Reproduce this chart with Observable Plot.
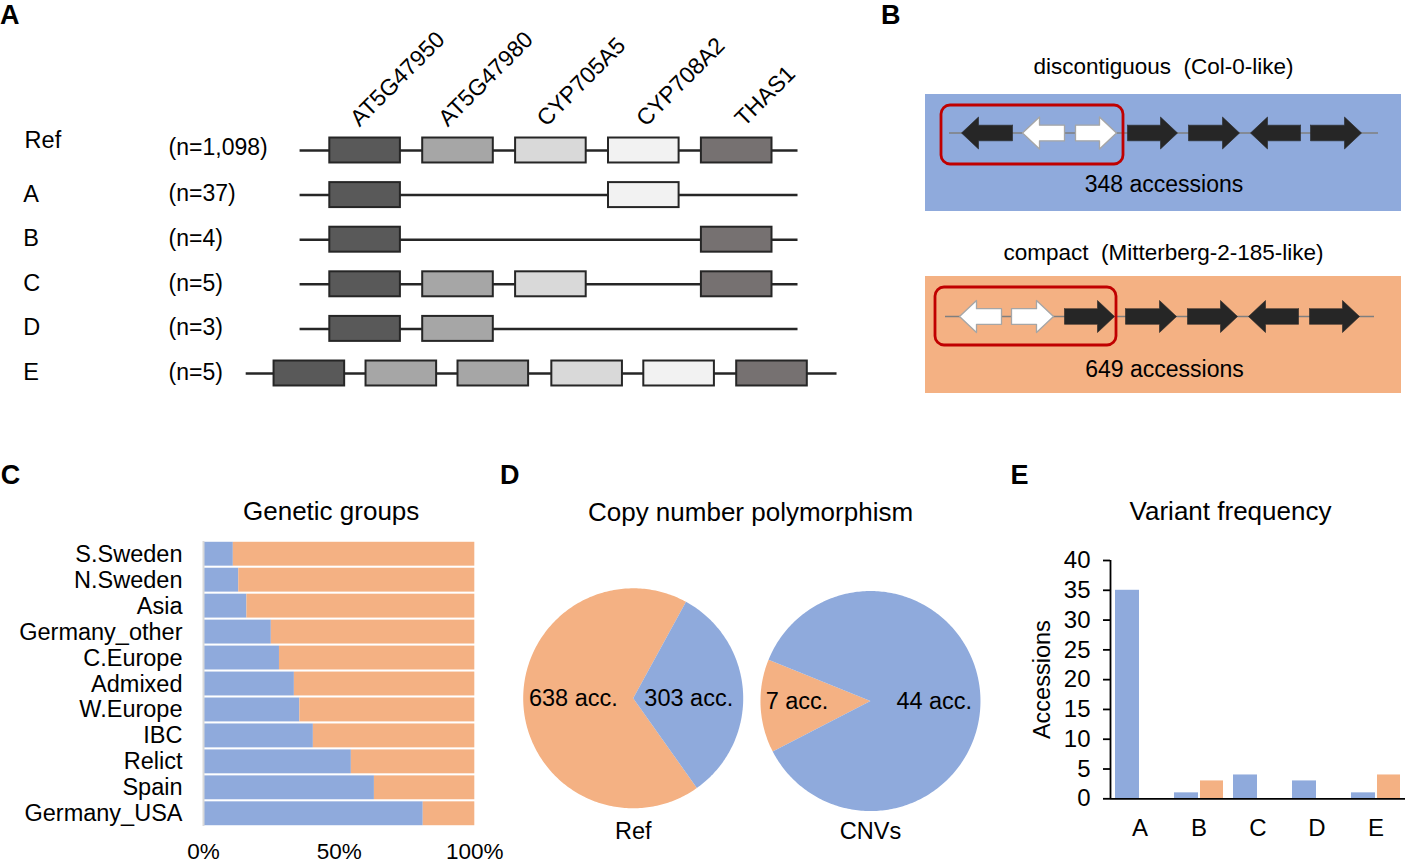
<!DOCTYPE html>
<html><head><meta charset="utf-8">
<script src="https://cdn.jsdelivr.net/npm/d3@7"></script>
<script src="https://cdn.jsdelivr.net/npm/@observablehq/plot@0.6"></script>
<style>
body{margin:0;background:#fff;}
#fig{position:relative;width:1410px;height:866px;overflow:hidden;background:#fff;font-family:"Liberation Sans",Arial,sans-serif;}
#fig svg{position:absolute;overflow:visible;}
.lt{position:absolute;font-weight:bold;font-size:27px;line-height:27px;color:#000;}
</style></head><body><div id="fig"></div>
<script>
// ================= DATA =================
// Panel A – haplotype variants of the gene cluster (schematic units: 1 = gene spacing)
const variantRows = ["Ref", "A", "B", "C", "D", "E"];
const variantCounts = ["(n=1,098)", "(n=37)", "(n=4)", "(n=5)", "(n=3)", "(n=5)"];
const geneNames = ["AT5G47950", "AT5G47980", "CYP705A5", "CYP708A2", "THAS1"];
const locusStart = [-0.32, -0.32, -0.32, -0.32, -0.32, -0.90];
const locusEnd = [5.04, 5.04, 5.04, 5.04, 5.04, 5.46];
const variantGeneIdx = {Ref: [0, 1, 2, 3, 4], A: [0, 3], B: [0, 4], C: [0, 1, 2, 4], D: [0, 1], E: [0, 1, 1, 2, 3, 4]};
const variantGeneStart = {Ref: [0, 1, 2, 3, 4], A: [0, 3], B: [0, 4], C: [0, 1, 2, 4], D: [0, 1], E: [-0.60, 0.39, 1.38, 2.39, 3.38, 4.38]};
const geneLength = 0.76;

// Panel B – cluster organisation (kb-like units from cluster start)
const clusterNames = ["discontiguous  (Col-0-like)", "compact  (Mitterberg-2-185-like)"];
const clusterAccessions = [348, 649];
const clusterLength = [42.9, 42.9];
const discStart = [1.2, 7.3, 12.6, 17.8, 23.9, 30.1, 36.1];
const discEnd = [6.3, 11.5, 16.7, 22.8, 29.0, 35.1, 41.2];
const discStrand = [-1, -1, 1, 1, 1, -1, 1];
const discType = ["black", "white", "white", "black", "black", "black", "black"];
const compStart = [1.4, 6.6, 11.9, 18.0, 24.2, 30.3, 36.4];
const compEnd = [5.6, 10.8, 16.9, 23.1, 29.2, 35.3, 41.4];
const compStrand = [-1, 1, 1, 1, 1, -1, 1];
const compType = ["white", "white", "black", "black", "black", "black", "black"];
const discBoxed = [-0.8, 17.4];
const compBoxed = [-1.0, 17.1];

// Panel C – share of discontiguous cluster per genetic group
const geneticGroups = ["S.Sweden", "N.Sweden", "Asia", "Germany_other", "C.Europe", "Admixed", "W.Europe", "IBC", "Relict", "Spain", "Germany_USA"];
const discontiguousShare = [0.11, 0.13, 0.16, 0.25, 0.28, 0.335, 0.355, 0.405, 0.545, 0.63, 0.81];
const percentTicks = [0, 0.5, 1];

// Panel D – copy number polymorphism
const pieNames = ["Ref", "CNVs"];
const pieDiscontiguous = [303, 44];
const pieCompact = [638, 7];

// Panel E – variant frequency
const variantNames = ["A", "B", "C", "D", "E"];
const freqDiscontiguous = [35, 1, 4, 3, 1];
const freqCompact = [0, 3, 0, 0, 4];
const freqTicks = [0, 5, 10, 15, 20, 25, 30, 35, 40];

// ================= STYLE / LAYOUT =================
const BLUE = "#8FAADC", ORANGE = "#F4B183", INK = "#262626", RED = "#C00000";
const FONT = "'Liberation Sans', Arial, sans-serif";
const geneFill = ["#595959", "#a6a6a6", "#d9d9d9", "#f2f2f2", "#767171"];
const geneLabelAt = [0.32, 1.27, 2.33, 3.40, 4.46];
const baseStyle = {fontFamily: FONT, fontSize: "23px", color: "#000", background: "transparent", overflow: "visible"};
const fig = document.getElementById("fig");
function place(svg, left, top) { svg.style.left = left + "px"; svg.style.top = top + "px"; fig.appendChild(svg); }

// ================= PANEL A =================
const aLoci = variantRows.map((r, i) => ({row: r, start: locusStart[i], end: locusEnd[i], n: variantCounts[i]}));
const aGenes = variantRows.flatMap(r => variantGeneIdx[r].map((g, j) => ({row: r, gene: g, start: variantGeneStart[r][j], end: variantGeneStart[r][j] + geneLength})));
const aLabels = geneNames.map((g, i) => ({row: "Ref", name: g, at: geneLabelAt[i]}));
const rowLabelX = -3.30, nLabelX = -1.735;
const plotA = Plot.plot({
  width: 880, height: 430, margin: 0, style: baseStyle,
  x: {type: "linear", domain: [0, 1], range: [329.3, 422.2], axis: null},
  y: {type: "band", domain: variantRows, range: [127.7, 395.3], paddingInner: 0.44, paddingOuter: 0.22, round: false, axis: null},
  color: {type: "identity"},
  marks: [
    Plot.ruleY(aLoci, {y: "row", x1: "start", x2: "end", stroke: INK, strokeWidth: 2.5}),
    Plot.barX(aGenes, {y: "row", x1: "start", x2: "end", fill: d => geneFill[d.gene], stroke: INK, strokeWidth: 2}),
    Plot.text(aLoci.filter(d => d.row !== "Ref"), {y: "row", x: () => rowLabelX, text: "row", textAnchor: "start", fontSize: 23.5, dy: -1}),
    Plot.text(aLoci.filter(d => d.row === "Ref"), {y: "row", x: () => rowLabelX + 0.015, text: "row", textAnchor: "start", fontSize: 23.5, dy: -10}),
    Plot.text(aLoci.filter(d => d.row !== "Ref"), {y: "row", x: () => nLabelX, text: "n", textAnchor: "start", fontSize: 23, dy: -1}),
    Plot.text(aLoci.filter(d => d.row === "Ref"), {y: "row", x: () => nLabelX, text: "n", textAnchor: "start", fontSize: 23, dy: -3}),
    Plot.text(aLabels, {y: "row", x: "at", text: "name", rotate: -45, textAnchor: "start", lineAnchor: "bottom", dy: -23, fontSize: 23})
  ]
});
place(plotA, 0, 0);

// ================= PANEL B =================
const clusters = [
  {name: clusterNames[0], acc: clusterAccessions[0], start: discStart, end: discEnd, strand: discStrand, type: discType, boxed: discBoxed, len: clusterLength[0]},
  {name: clusterNames[1], acc: clusterAccessions[1], start: compStart, end: compEnd, strand: compStrand, type: compType, boxed: compBoxed, len: clusterLength[1]}
];
const trackLayout = [
  {y: 132.5, x0: 0, bg: [94, 211], titleY: 66, accY: 184.5, accX: 21.45, boxY: [105, 164]},
  {y: 316, x0: -0.4, bg: [276, 393], titleY: 252.5, accX: 21.5, accY: 369.5, boxY: [287, 345]}
];
const bgX = [-2.4, 45.2];
function arrowPts(s, e, strand, yc, id) {
  const hl = 1.7, bh = 7.8, hh = 16;
  const pts = strand > 0
    ? [[s, yc - bh], [e - hl, yc - bh], [e - hl, yc - hh], [e, yc], [e - hl, yc + hh], [e - hl, yc + bh], [s, yc + bh], [s, yc - bh]]
    : [[e, yc - bh], [s + hl, yc - bh], [s + hl, yc - hh], [s, yc], [s + hl, yc + hh], [s + hl, yc + bh], [e, yc + bh], [e, yc - bh]];
  return pts.map(([x, y]) => ({id, x, y}));
}
const bTracks = clusters.map((c, k) => ({...c, ...trackLayout[k], k}));
const arrowBlack = [], arrowWhite = [];
bTracks.forEach(t => t.start.forEach((s, i) => {
  const pts = arrowPts(t.x0 + s, t.x0 + t.end[i], t.strand[i], t.y, t.k + "-" + i);
  (t.type[i] === "black" ? arrowBlack : arrowWhite).push(...pts);
}));
const plotB = Plot.plot({
  width: 540, height: 420, margin: 0, style: baseStyle,
  x: {type: "linear", domain: [0, 10], range: [79, 179], axis: null},
  y: {type: "linear", domain: [0, 420], range: [0, 420], axis: null},
  marks: [
    Plot.rect(bTracks, {x1: () => bgX[0], x2: () => bgX[1], y1: d => d.bg[0], y2: d => d.bg[1], fill: d => d.k === 0 ? BLUE : ORANGE}),
    Plot.ruleY(bTracks, {y: "y", x1: d => d.x0, x2: d => d.x0 + d.len, stroke: "#7f7f7f", strokeWidth: 1.5}),
    Plot.line(arrowBlack, {x: "x", y: "y", z: "id", fill: INK, stroke: INK, strokeWidth: 0.6, curve: "linear"}),
    Plot.line(arrowWhite, {x: "x", y: "y", z: "id", fill: "#ffffff", stroke: "#a6a6a6", strokeWidth: 1.3, curve: "linear"}),
    Plot.rect(bTracks, {x1: d => d.x0 + d.boxed[0], x2: d => d.x0 + d.boxed[1], y1: d => d.boxY[0], y2: d => d.boxY[1], rx: 9, fill: "none", stroke: RED, strokeWidth: 2.8}),
    Plot.text(bTracks, {x: () => 21.4, y: "titleY", text: d => d.name.replace("  ", "\u00a0 "), fontSize: 22.5}),
    Plot.text(bTracks, {x: "accX", y: "accY", text: d => d.acc + " accessions", fontSize: 23})
  ]
});
place(plotB, 870, 0);

// ================= PANEL C =================
const cData = geneticGroups.flatMap((g, i) => [
  {group: g, kind: "discontiguous", x1: 0, x2: discontiguousShare[i]},
  {group: g, kind: "compact", x1: discontiguousShare[i], x2: 1}
]);
const plotC = Plot.plot({
  width: 510, height: 386, marginLeft: 203, marginRight: 35.7, marginTop: 61, marginBottom: 40, style: baseStyle,
  x: {type: "linear", domain: [0, 1]},
  y: {type: "band", domain: geneticGroups, paddingInner: 0.08, paddingOuter: 0.03, round: false},
  color: {type: "identity"},
  marks: [
    Plot.barX(cData, {y: "group", x1: "x1", x2: "x2", fill: d => d.kind === "discontiguous" ? BLUE : ORANGE}),
    Plot.ruleX([0], {stroke: "#d9d9d9", strokeWidth: 2}),
    Plot.axisX({ticks: percentTicks, tickFormat: d3.format(".0%"), tickSize: 0, tickPadding: 17, fontSize: 22.5, label: null}),
    Plot.axisY({tickSize: 0, tickPadding: 21, fontSize: 23.5, label: null}),
    Plot.text(["Genetic groups"], {frameAnchor: "top", lineAnchor: "middle", text: d => d, dx: -8, dy: -29.5, fontSize: 26})
  ]
});
place(plotC, 0, 480);

// ================= PANEL D =================
const pieCenterX = [0, 2.157], pieCenterY = [0, -0.025];
const pieStartDeg = [28.7, 292.1];
const pieLabelDx = [{discontiguous: 0.505, compact: -0.544}, {discontiguous: 0.58, compact: -0.668}];
const wedgePts = [], pieLabels = [];
pieNames.forEach((name, k) => {
  const total = pieDiscontiguous[k] + pieCompact[k];
  const slices = [{kind: "discontiguous", v: pieDiscontiguous[k]}, {kind: "compact", v: pieCompact[k]}];
  const cx = pieCenterX[k], cy = pieCenterY[k];
  let a = pieStartDeg[k];
  slices.forEach(s => {
    const span = 360 * s.v / total, id = name + s.kind;
    wedgePts.push({id, kind: s.kind, x: cx, y: cy});
    const steps = Math.ceil(span);
    for (let j = 0; j <= steps; j++) {
      const ang = (a + span * j / steps) * Math.PI / 180;
      wedgePts.push({id, kind: s.kind, x: cx + Math.sin(ang), y: cy + Math.cos(ang)});
    }
    wedgePts.push({id, kind: s.kind, x: cx, y: cy});
    pieLabels.push({x: cx + pieLabelDx[k][s.kind], y: cy, text: s.v + " acc."});
    a += span;
  });
});
const pieTitles = pieNames.map((n, k) => ({x: pieCenterX[k], y: -1.215, text: n}));
const plotD = Plot.plot({
  width: 500, height: 386, margin: 0, style: baseStyle,
  x: {type: "linear", domain: [0, 1], range: [132.7, 242.7], axis: null},
  y: {type: "linear", domain: [0, 1], range: [217.8, 107.8], axis: null},
  marks: [
    Plot.line(wedgePts.filter(d => d.kind === "compact"), {x: "x", y: "y", z: "id", fill: ORANGE, stroke: "none", curve: "linear"}),
    Plot.line(wedgePts.filter(d => d.kind === "discontiguous"), {x: "x", y: "y", z: "id", fill: BLUE, stroke: "none", curve: "linear"}),
    Plot.text(pieLabels, {x: "x", y: "y", text: "text", fontSize: 23.5}),
    Plot.text(pieTitles, {x: "x", y: "y", text: "text", fontSize: 23.5}),
    Plot.text(["Copy number polymorphism"], {frameAnchor: "top", lineAnchor: "middle", text: d => d, dy: 31.7, fontSize: 26})
  ]
});
place(plotD, 500, 480);

// ================= PANEL E =================
const eData = variantNames.map((v, i) => ({variant: v, disc: freqDiscontiguous[i], comp: freqCompact[i]}));
const plotE = Plot.plot({
  width: 410, height: 386, marginLeft: 110, marginRight: 5, marginTop: 80, marginBottom: 67.7, style: baseStyle,
  x: {type: "band", domain: variantNames, padding: 0, round: false},
  y: {type: "linear", domain: [0, 40]},
  marks: [
    Plot.barY(eData, {x: "variant", y: "disc", fill: BLUE, insetLeft: 5, insetRight: 30}),
    Plot.barY(eData, {x: "variant", y: "comp", fill: ORANGE, insetLeft: 31, insetRight: 5}),
    Plot.ruleY([0], {stroke: "#000", strokeWidth: 1.8}),
    Plot.ruleX([variantNames[0]], {x: d => d, y1: 0, y2: 40, dx: -29.5, stroke: "#000", strokeWidth: 1.8}),
    Plot.axisY({ticks: freqTicks, tickSize: 7, tickPadding: 13, fontSize: 24, stroke: "#000", strokeWidth: 1.8, label: null}),
    Plot.axisX({tickSize: 0, tickPadding: 20, fontSize: 24, label: null}),
    Plot.text(["Accessions"], {frameAnchor: "left", textAnchor: "middle", lineAnchor: "middle", rotate: -90, text: d => d, dx: -68.3, fontSize: 23.5}),
    Plot.text(["Variant frequency"], {frameAnchor: "top", lineAnchor: "middle", text: d => d, dx: -27.5, dy: -48.5, fontSize: 26})
  ]
});
place(plotE, 1000, 480);

// ================= PANEL LETTERS =================
const panelLetters = ["A", "B", "C", "D", "E"];
const letterPos = [[0, 1.5], [881, 1.5], [0.7, 461.5], [500, 461.5], [1010.5, 461.5]];
panelLetters.forEach((l, i) => {
  const s = document.createElement("span");
  s.className = "lt"; s.textContent = l;
  s.style.left = letterPos[i][0] + "px"; s.style.top = letterPos[i][1] + "px";
  fig.appendChild(s);
});
</script></body></html>
